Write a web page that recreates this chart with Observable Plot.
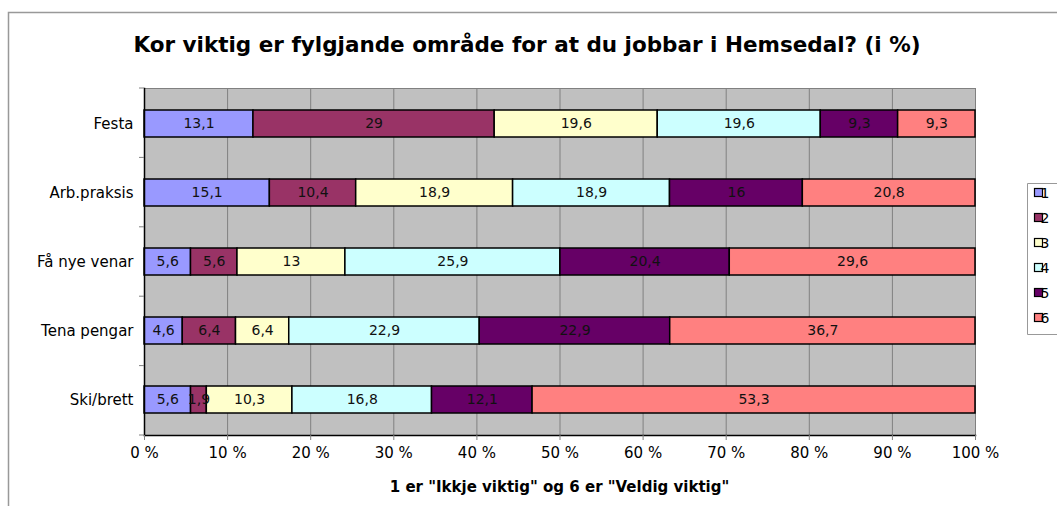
<!DOCTYPE html>
<html>
<head>
<meta charset="utf-8">
<script src="https://cdn.jsdelivr.net/npm/d3@7"></script>
<script src="https://cdn.jsdelivr.net/npm/@observablehq/plot@0.6"></script>
<style>
  html, body { margin: 0; padding: 0; background: #fff; }
  svg { display: block; }
</style>
</head>
<body>
<div id="chart"></div>
<script>
const categories = ["Festa", "Arb.praksis", "Få nye venar", "Tena pengar", "Ski/brett"];
const levels = ["1", "2", "3", "4", "5", "6"];
const level1 = [13.1, 15.1, 5.6, 4.6, 5.6];
const level2 = [29, 10.4, 5.6, 6.4, 1.9];
const level3 = [19.6, 18.9, 13, 6.4, 10.3];
const level4 = [19.6, 18.9, 25.9, 22.9, 16.8];
const level5 = [9.3, 16, 20.4, 22.9, 12.1];
const level6 = [9.3, 20.8, 29.6, 36.7, 53.3];
const xTicks = [0, 0.1, 0.2, 0.3, 0.4, 0.5, 0.6, 0.7, 0.8, 0.9, 1];
const titleText = "Kor viktig er fylgjande område for at du jobbar i Hemsedal? (i %)";
const xLabel = "1 er \"Ikkje viktig\" og 6 er \"Veldig viktig\"";

const colors = ["#9999FF", "#993366", "#FFFFCC", "#CCFFFF", "#660066", "#FF8080"];
const series = [level1, level2, level3, level4, level5, level6];
const data = [];
categories.forEach((c, i) => {
  levels.forEach((l, j) => data.push({cat: c, level: l, value: series[j][i]}));
});
const fmt = v => String(v).replace(".", ",");

const W = 1057, H = 506;
const FONT = "DejaVu Sans, Verdana, sans-serif";
const chart = Plot.plot({
  width: W, height: H,
  marginLeft: 144, marginRight: 82, marginTop: 88, marginBottom: 71,
  style: {fontFamily: FONT, fontSize: "14px", color: "#000", background: "#fff"},
  x: {domain: [0, 1]},
  y: {domain: categories, paddingInner: 0.61, paddingOuter: 0.305},
  color: {domain: levels, range: colors},
  marks: [
    Plot.frame({fill: "#C0C0C0", stroke: "#808080"}),
    Plot.gridX(xTicks, {stroke: "#808080", strokeOpacity: 1, strokeWidth: 1}),
    Plot.barX(data, Plot.stackX({x: "value", y: "cat", fill: "level", z: "level", offset: "normalize", order: levels, stroke: "#000", strokeWidth: 1.5})),
    Plot.text(data, Plot.stackX({x: "value", y: "cat", z: "level", text: d => fmt(d.value), offset: "normalize", order: levels, fill: "#111", fontSize: 14})),
    Plot.frame({anchor: "bottom", stroke: "#000", strokeWidth: 1.5}),
    Plot.frame({anchor: "left", stroke: "#000", strokeWidth: 1.5}),
    Plot.axisX({ticks: xTicks, tickFormat: d => Math.round(d * 100) + " %", tickSize: 5, tickPadding: 7, stroke: "#808080", fill: "#000", fontSize: 15, label: null}),
    Plot.axisY({tickSize: 0, tickPadding: 11, fontSize: 15, fill: "#000", label: null})
  ]
});

const svg = d3.select(chart);
// y tick marks at category boundaries
const step = 347 / categories.length;
for (let i = 0; i <= categories.length; i++) {
  const yy = 88 + i * step;
  svg.append("line").attr("x1", 139).attr("x2", 144).attr("y1", yy).attr("y2", yy)
    .attr("stroke", "#808080");
}
// outer border
svg.append("path").attr("d", `M8.5,${H} V12.5 H${W}`).attr("fill", "none").attr("stroke", "#999").attr("stroke-width", 1.5);
// title
svg.append("text").attr("x", 527).attr("y", 52).attr("text-anchor", "middle")
  .style("font-family", FONT).style("font-weight", "bold").style("font-size", "21.5px")
  .attr("fill", "#000").text(titleText);
// x label
svg.append("text").attr("x", 559.5).attr("y", 492).attr("text-anchor", "middle")
  .style("font-family", FONT).style("font-weight", "bold").style("font-size", "15px")
  .attr("fill", "#000").text(xLabel);
// legend
const lg = svg.append("g");
lg.append("path").attr("d", `M${W},183.5 H1027.5 V334.5 H${W}`).attr("fill", "#fff").attr("stroke", "#999");
levels.forEach((l, i) => {
  const cy = 193 + i * 25;
  lg.append("rect").attr("x", 1034.5).attr("y", cy - 4.5).attr("width", 8).attr("height", 8)
    .attr("fill", colors[i]).attr("stroke", "#000").attr("stroke-width", 1.2);
  lg.append("text").attr("x", 1045).attr("y", cy + 5)
    .style("font-family", FONT).style("font-size", "14px").attr("fill", "#000").text(l);
});
document.getElementById("chart").appendChild(chart);
</script>
</body>
</html>
